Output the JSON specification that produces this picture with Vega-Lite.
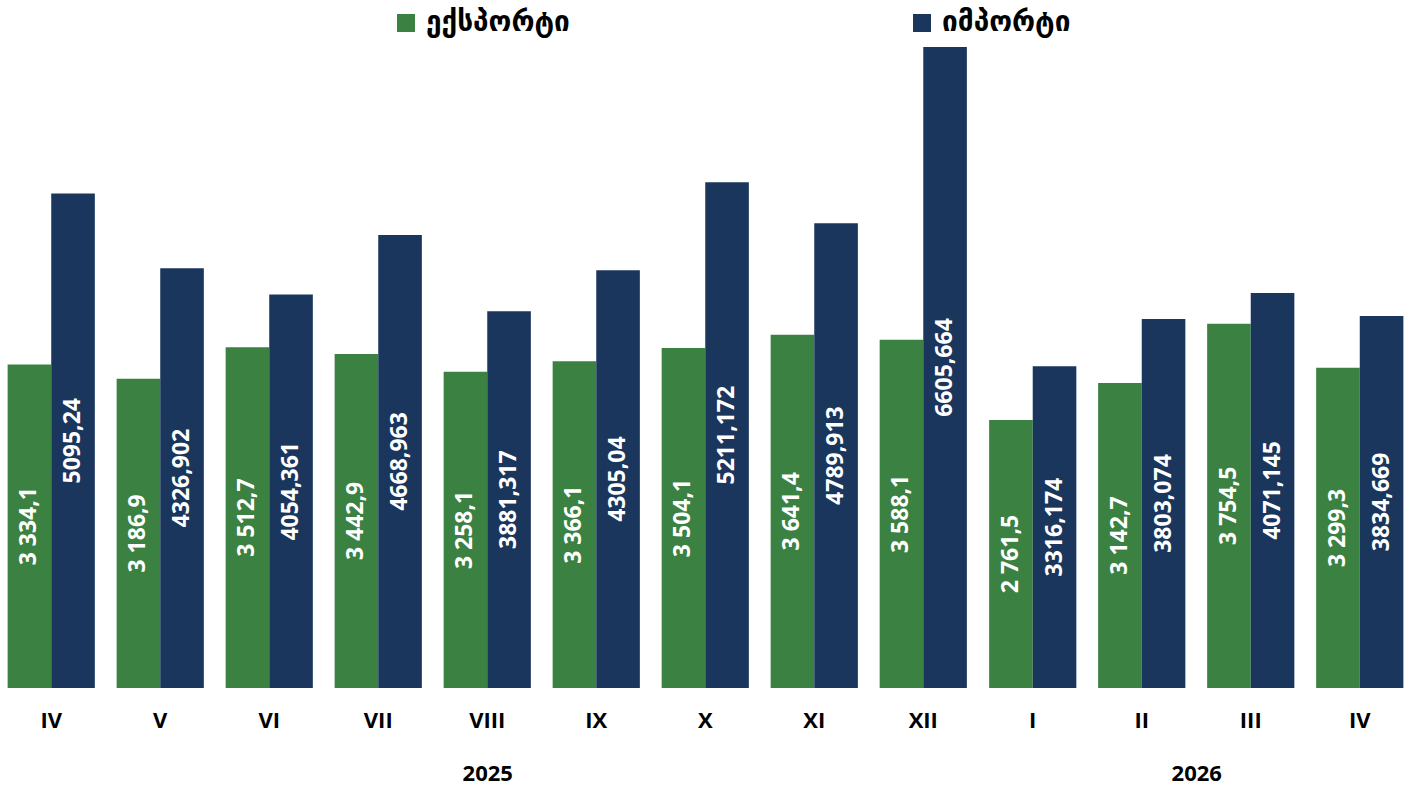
{
  "$schema": "https://vega.github.io/schema/vega-lite/v6.json",
  "padding": 0,
  "background": "white",
  "config": {"view": {"stroke": null}, "font": "Open Sans"},
  "datasets": {
    "y2025": [
      {"idx": 1, "month": "IV", "type": "ექსპორტი", "value": 3334.1, "label": "3 334,1"},
      {"idx": 1, "month": "IV", "type": "იმპორტი", "value": 5095.24, "label": "5095,24"},
      {"idx": 2, "month": "V", "type": "ექსპორტი", "value": 3186.9, "label": "3 186,9"},
      {"idx": 2, "month": "V", "type": "იმპორტი", "value": 4326.902, "label": "4326,902"},
      {"idx": 3, "month": "VI", "type": "ექსპორტი", "value": 3512.7, "label": "3 512,7"},
      {"idx": 3, "month": "VI", "type": "იმპორტი", "value": 4054.361, "label": "4054,361"},
      {"idx": 4, "month": "VII", "type": "ექსპორტი", "value": 3442.9, "label": "3 442,9"},
      {"idx": 4, "month": "VII", "type": "იმპორტი", "value": 4668.963, "label": "4668,963"},
      {"idx": 5, "month": "VIII", "type": "ექსპორტი", "value": 3258.1, "label": "3 258,1"},
      {"idx": 5, "month": "VIII", "type": "იმპორტი", "value": 3881.317, "label": "3881,317"},
      {"idx": 6, "month": "IX", "type": "ექსპორტი", "value": 3366.1, "label": "3 366,1"},
      {"idx": 6, "month": "IX", "type": "იმპორტი", "value": 4305.04, "label": "4305,04"},
      {"idx": 7, "month": "X", "type": "ექსპორტი", "value": 3504.1, "label": "3 504,1"},
      {"idx": 7, "month": "X", "type": "იმპორტი", "value": 5211.172, "label": "5211,172"},
      {"idx": 8, "month": "XI", "type": "ექსპორტი", "value": 3641.4, "label": "3 641,4"},
      {"idx": 8, "month": "XI", "type": "იმპორტი", "value": 4789.913, "label": "4789,913"},
      {"idx": 9, "month": "XII", "type": "ექსპორტი", "value": 3588.1, "label": "3 588,1"},
      {"idx": 9, "month": "XII", "type": "იმპორტი", "value": 6605.664, "label": "6605,664"}
    ],
    "y2026": [
      {"idx": 10, "month": "I", "type": "ექსპორტი", "value": 2761.5, "label": "2 761,5"},
      {"idx": 10, "month": "I", "type": "იმპორტი", "value": 3316.174, "label": "3316,174"},
      {"idx": 11, "month": "II", "type": "ექსპორტი", "value": 3142.7, "label": "3 142,7"},
      {"idx": 11, "month": "II", "type": "იმპორტი", "value": 3803.074, "label": "3803,074"},
      {"idx": 12, "month": "III", "type": "ექსპორტი", "value": 3754.5, "label": "3 754,5"},
      {"idx": 12, "month": "III", "type": "იმპორტი", "value": 4071.145, "label": "4071,145"},
      {"idx": 13, "month": "IV", "type": "ექსპორტი", "value": 3299.3, "label": "3 299,3"},
      {"idx": 13, "month": "IV", "type": "იმპორტი", "value": 3834.669, "label": "3834,669"}
    ]
  },
  "spacing": 6.5,
  "resolve": {"scale": {"color": "shared"}, "legend": {"color": "shared"}},
  "hconcat": [
    {
      "data": {"name": "y2025"},
      "width": 974.5,
      "height": 688,
      "encoding": {
        "x": {
          "field": "idx", "type": "ordinal",
          "scale": {"paddingInner": 0.2, "paddingOuter": 0.07},
          "axis": {"title": "2025", "labelAngle": 0, "domain": false, "ticks": false, "labelFontSize": 22, "labelFontWeight": "bold", "labelColor": "#000000", "labelFont": "Open Sans", "labelPadding": 22,
            "titleFontSize": 22, "titleFontWeight": "bold", "titleColor": "#000000", "titleFont": "Open Sans", "titlePadding": 32,
            "labelExpr": "['', 'IV', 'V', 'VI', 'VII', 'VIII', 'IX', 'X', 'XI', 'XII', 'I', 'II', 'III', 'IV'][datum.value]"}
        },
        "xOffset": {"field": "type", "type": "nominal", "sort": ["ექსპორტი", "იმპორტი"], "scale": {"paddingInner": 0, "paddingOuter": 0}}
      },
      "layer": [
        {
          "mark": {"type": "bar"},
          "encoding": {
            "y": {"field": "value", "type": "quantitative", "scale": {"domain": [0, 7090], "nice": false}, "axis": null},
            "color": {
              "field": "type", "type": "nominal",
              "scale": {"domain": ["ექსპორტი", "იმპორტი"], "range": ["#3A8142", "#1A365D"]},
              "legend": {
                "title": null, "orient": "none", "direction": "horizontal", "legendX": 392, "legendY": 9,
                "padding": 0, "symbolType": "square", "symbolSize": 324, "symbolStrokeWidth": 0, "symbolOpacity": 1,
                "labelFontSize": 28, "labelFontWeight": "bold", "labelFont": "DejaVu Sans", "labelColor": "#000000",
                "labelOffset": 6, "columnPadding": 338
              }
            }
          }
        },
        {
          "mark": {"type": "text", "color": "white", "angle": 270, "align": "center", "baseline": "middle", "fontSize": 23, "fontWeight": "bold", "font": "Open Sans"},
          "encoding": {
            "y": {"field": "value", "type": "quantitative", "scale": {"domain": [0, 14180], "nice": false}, "axis": null},
            "text": {"field": "label", "type": "nominal"}
          }
        }
      ],
      "resolve": {"scale": {"y": "independent"}}
    },
    {
      "data": {"name": "y2026"},
      "width": 429.5,
      "height": 688,
      "encoding": {
        "x": {
          "field": "idx", "type": "ordinal",
          "scale": {"paddingInner": 0.2, "paddingOuter": 0.07},
          "axis": {"title": "2026", "labelAngle": 0, "domain": false, "ticks": false, "labelFontSize": 22, "labelFontWeight": "bold", "labelColor": "#000000", "labelFont": "Open Sans", "labelPadding": 22,
            "titleFontSize": 22, "titleFontWeight": "bold", "titleColor": "#000000", "titleFont": "Open Sans", "titlePadding": 32,
            "labelExpr": "['', 'IV', 'V', 'VI', 'VII', 'VIII', 'IX', 'X', 'XI', 'XII', 'I', 'II', 'III', 'IV'][datum.value]"}
        },
        "xOffset": {"field": "type", "type": "nominal", "sort": ["ექსპორტი", "იმპორტი"], "scale": {"paddingInner": 0, "paddingOuter": 0}}
      },
      "layer": [
        {
          "mark": {"type": "bar"},
          "encoding": {
            "y": {"field": "value", "type": "quantitative", "scale": {"domain": [0, 7090], "nice": false}, "axis": null},
            "color": {
              "field": "type", "type": "nominal",
              "scale": {"domain": ["ექსპორტი", "იმპორტი"], "range": ["#3A8142", "#1A365D"]},
              "legend": {
                "title": null, "orient": "none", "direction": "horizontal", "legendX": 392, "legendY": 9,
                "padding": 0, "symbolType": "square", "symbolSize": 324, "symbolStrokeWidth": 0, "symbolOpacity": 1,
                "labelFontSize": 28, "labelFontWeight": "bold", "labelFont": "DejaVu Sans", "labelColor": "#000000",
                "labelOffset": 6, "columnPadding": 338
              }
            }
          }
        },
        {
          "mark": {"type": "text", "color": "white", "angle": 270, "align": "center", "baseline": "middle", "fontSize": 23, "fontWeight": "bold", "font": "Open Sans"},
          "encoding": {
            "y": {"field": "value", "type": "quantitative", "scale": {"domain": [0, 14180], "nice": false}, "axis": null},
            "text": {"field": "label", "type": "nominal"}
          }
        }
      ],
      "resolve": {"scale": {"y": "independent"}}
    }
  ]
}
